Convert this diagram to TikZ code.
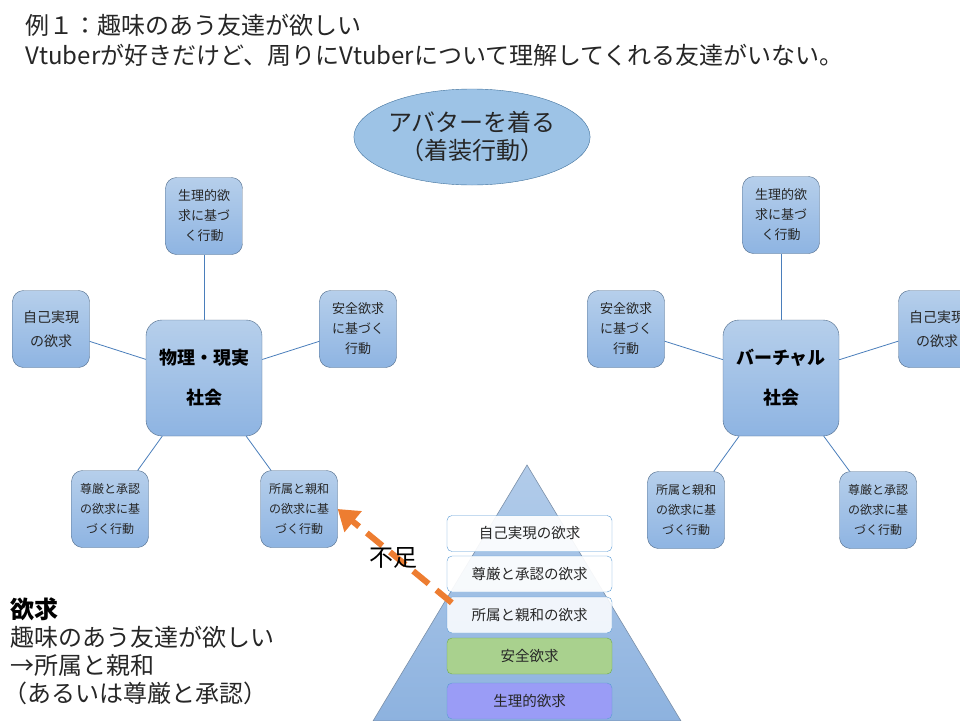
\documentclass[tikz,border=0pt]{standalone}
\usepackage{fontspec}
\setmainfont{Noto Sans CJK JP}
\usetikzlibrary{arrows.meta,shapes.geometric}

\definecolor{boxtop}{HTML}{B6CFEB}
\definecolor{boxbot}{HTML}{8EB4E2}
\definecolor{boxline}{HTML}{4F6A88}
\definecolor{linkblue}{HTML}{4A7EBB}
\definecolor{ellfill}{HTML}{9DC3E6}
\definecolor{ellline}{HTML}{41719C}
\definecolor{pyrtop}{HTML}{B2CCEA}
\definecolor{pyrbot}{HTML}{8DB2DF}
\definecolor{pyrline}{HTML}{7A8FA8}
\definecolor{lvlline}{HTML}{5B9BD5}
\definecolor{safefill}{HTML}{A9D18E}
\definecolor{safeline}{HTML}{70AD47}
\definecolor{physfill}{HTML}{9A9CF6}
\definecolor{lackorange}{HTML}{ED7D31}
\definecolor{txtgray}{HTML}{262626}

\begin{document}
\begin{tikzpicture}[x=1pt,y=-1pt,
    every node/.style={text=txtgray},
    smallbox/.style={draw=boxline, rounded corners=11pt, top color=boxtop, bottom color=boxbot,
        minimum width=77pt, minimum height=77pt, align=center, inner sep=0pt},
    bigbox/.style={draw=boxline, rounded corners=16pt, top color=boxtop, bottom color=boxbot,
        minimum width=116pt, minimum height=116pt, align=center, inner sep=0pt,
        font=\fontsize{18}{40}\selectfont\bfseries, text=black},
    link/.style={draw=linkblue, line width=0.8pt},
    level/.style={draw=lvlline, rounded corners=5pt, minimum width=165pt, minimum height=36pt,
        inner sep=0pt, font=\fontsize{14.5}{16}\selectfont},
    lack/.style={draw=lackorange, line width=6pt, dash pattern=on 20pt off 10pt,
        -{Triangle[length=20pt,width=26pt]}},
    bigtext/.style={font=\fontsize{24}{28}\selectfont}
]
\useasboundingbox (0,0) rectangle (960,720);
\clip (0,0) rectangle (960,720);

% Title
\node[bigtext, anchor=west] (title1) at (22,25) {例１：趣味のあう友達が欲しい};
\node[bigtext, anchor=west] (title2) at (22,55) {Vtuberが好きだけど、周りにVtuberについて理解してくれる友達がいない。};

% Avatar ellipse
\node[ellipse, draw=ellline, fill=ellfill, minimum width=230pt, minimum height=96pt,
    inner sep=0pt, align=center, bigtext] (avatar) at (472,137) {アバターを着る\\（着装行動）};

% Physical / real society
\node[bigbox] (lc) at (204,378) {物理・現実\\社会};
\node[smallbox, font=\fontsize{13}{20}\selectfont] (lt) at (204,216) {生理的欲\\求に基づ\\く行動};
\node[smallbox, font=\fontsize{14}{24}\selectfont] (ll) at (51,329) {自己実現\\の欲求};
\node[smallbox, font=\fontsize{13}{20}\selectfont] (lr) at (358,329) {安全欲求\\に基づく\\行動};
\node[smallbox, font=\fontsize{12}{20}\selectfont] (lbl) at (110,509) {尊厳と承認\\の欲求に基\\づく行動};
\node[smallbox, font=\fontsize{12}{20}\selectfont] (lbr) at (299,509) {所属と親和\\の欲求に基\\づく行動};

\draw[link] (lc) -- (lt);
\draw[link] (lc) -- (ll);
\draw[link] (lc) -- (lr);
\draw[link] (lc) -- (lbl);
\draw[link] (lc) -- (lbr);

% Virtual society
\node[bigbox] (rc) at (781,378) {バーチャル\\社会};
\node[smallbox, font=\fontsize{13}{20}\selectfont] (rt) at (781,215) {生理的欲\\求に基づ\\く行動};
\node[smallbox, font=\fontsize{13}{20}\selectfont] (rl) at (626,329) {安全欲求\\に基づく\\行動};
\node[smallbox, font=\fontsize{14}{24}\selectfont] (rr) at (937,329) {自己実現\\の欲求};
\node[smallbox, font=\fontsize{12}{20}\selectfont] (rbl) at (686,510) {所属と親和\\の欲求に基\\づく行動};
\node[smallbox, font=\fontsize{12}{20}\selectfont] (rbr) at (878,510) {尊厳と承認\\の欲求に基\\づく行動};

\draw[link] (rc) -- (rt);
\draw[link] (rc) -- (rl);
\draw[link] (rc) -- (rr);
\draw[link] (rc) -- (rbl);
\draw[link] (rc) -- (rbr);

% Pyramid of needs
\shade[top color=pyrtop, bottom color=pyrbot, draw=pyrline, line width=0.6pt]
    (527,465) -- (373,721) -- (681,721) -- cycle;

\node[level, fill=white, fill opacity=0.92, text opacity=1] (lvl1) at (529.5,533.5) {自己実現の欲求};
\node[level, fill=white, fill opacity=0.92, text opacity=1] (lvl2) at (529.5,574) {尊厳と承認の欲求};
\node[level, fill=white, fill opacity=0.86, text opacity=1] (lvl3) at (529.5,615) {所属と親和の欲求};
\node[level, draw=safeline, fill=safefill] (lvl4) at (529.5,656) {安全欲求};
\node[level, fill=physfill] (lvl5) at (529.5,701) {生理的欲求};

% Lack arrow
\draw[lack] ([xshift=5pt,yshift=-6pt]lvl3.north west) -- (lbr.east);
\node[bigtext, text=black] (lacklabel) at (393,558) {不足};

% Needs note
\node[bigtext, anchor=west, text=black] (need) at (7,609) {\bfseries 欲求};
\node[bigtext, anchor=west] (need1) at (7,637) {趣味のあう友達が欲しい};
\node[bigtext, anchor=west] (need2) at (7,665) {→所属と親和};
\node[bigtext, anchor=west] (need3) at (0,693) {（あるいは尊厳と承認）};

\end{tikzpicture}
\end{document}
